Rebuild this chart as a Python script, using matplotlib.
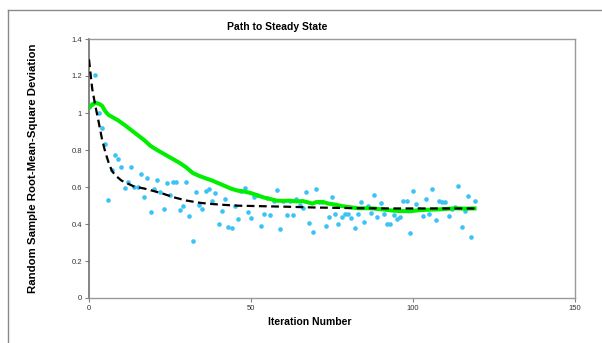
import numpy as np
import matplotlib.pyplot as plt
from matplotlib.lines import Line2D

plt.rcParams['font.family'] = ['Liberation Sans', 'DejaVu Sans']

# scatter: random sample rms deviation per iteration
iters = np.arange(120)
sample_rms = [1.034, 1.05, 1.205, 1.00, 0.92, 0.83, 0.53, 0.69, 0.775, 0.753,
              0.71, 0.593, 0.629, 0.71, 0.60, 0.60, 0.67, 0.548, 0.647, 0.465,
              0.589, 0.638, 0.573, 0.481, 0.622, 0.557, 0.629, 0.625, 0.476, 0.497,
              0.629, 0.443, 0.31, 0.571, 0.501, 0.479, 0.58, 0.591, 0.526, 0.569,
              0.402, 0.472, 0.533, 0.385, 0.378, 0.497, 0.427, 0.577, 0.596, 0.465,
              0.431, 0.544, 0.555, 0.389, 0.452, 0.539, 0.447, 0.524, 0.585, 0.373,
              0.524, 0.447, 0.524, 0.447, 0.533, 0.501, 0.488, 0.575, 0.407, 0.357,
              0.591, 0.52, 0.52, 0.389, 0.436, 0.544, 0.454, 0.40, 0.438, 0.456,
              0.456, 0.434, 0.38, 0.454, 0.517, 0.412, 0.499, 0.458, 0.555, 0.436,
              0.515, 0.452, 0.398, 0.398, 0.449, 0.427, 0.438, 0.526, 0.523, 0.353,
              0.578, 0.506, 0.479, 0.442, 0.537, 0.452, 0.591, 0.42, 0.526, 0.517,
              0.517, 0.445, 0.483, 0.49, 0.607, 0.382, 0.472, 0.553, 0.331, 0.523]

# green path
green_x = [0, 1, 2, 3, 4, 5, 6, 7, 9, 11, 13, 15, 17, 19, 21, 23, 26, 28, 30,
           32, 34, 36, 38, 40, 42, 44, 46, 48, 50, 52, 54, 56, 58, 60, 62, 64,
           66, 68, 69, 70, 72, 74, 76, 78, 80, 83, 87, 90, 92, 94, 96, 99, 101,
           103, 106, 108, 110, 113, 116, 119]
green_y = [1.03, 1.045, 1.055, 1.05, 1.04, 1.01, 0.99, 0.98, 0.96, 0.935, 0.908,
           0.881, 0.854, 0.822, 0.80, 0.78, 0.75, 0.73, 0.706, 0.676, 0.66, 0.647,
           0.635, 0.62, 0.605, 0.59, 0.58, 0.575, 0.567, 0.555, 0.543, 0.535,
           0.526, 0.525, 0.526, 0.522, 0.524, 0.515, 0.51, 0.518, 0.52, 0.51,
           0.505, 0.497, 0.492, 0.485, 0.485, 0.48, 0.476, 0.472, 0.47, 0.469,
           0.473, 0.476, 0.478, 0.479, 0.481, 0.485, 0.483, 0.484]

# black dashed path
black_x = [0, 1, 2, 3, 4, 5, 6, 7, 8, 10, 12, 14, 17, 20, 23, 26, 30, 34, 38,
           42, 46, 54, 62, 70, 81, 93, 105, 119]
black_y = [1.29, 1.13, 1.035, 0.95, 0.86, 0.79, 0.735, 0.69, 0.665, 0.635, 0.618,
           0.602, 0.592, 0.578, 0.563, 0.545, 0.527, 0.515, 0.508, 0.503, 0.499,
           0.496, 0.493, 0.489, 0.486, 0.484, 0.484, 0.484]

fig = plt.figure(figsize=(6.02, 3.43), dpi=100)
ax = fig.add_axes([89/602, 1-298/343, (575-89)/602, (298-39)/343])

ax.scatter(iters, sample_rms, s=11, color='#3cc3f5', linewidths=0, zorder=2)
ax.plot(green_x, green_y, color='#00ee00', lw=2.9, zorder=3)
ax.plot(black_x, black_y, color='black', lw=1.6, dashes=(3.5, 2), zorder=4)

ax.set_xlim(0, 150)
ax.set_ylim(0, 1.4)
ax.set_xticks([0, 50, 100, 150])
ax.set_yticks(np.arange(0, 1.41, 0.2))
ax.set_yticklabels(['0', '0.2', '0.4', '0.6', '0.8', '1', '1.2', '1.4'])
ax.tick_params(labelsize=5.5, length=3, width=0.8, colors='#808080',
               labelcolor='#333333', pad=2)

for side in ['top', 'right', 'bottom']:
    ax.spines[side].set_color('#9a9a9a')
    ax.spines[side].set_linewidth(1.0)
ax.spines['left'].set_color('#707070')
ax.spines['left'].set_linewidth(1.2)

fig.text(277/602, 1-27/343, 'Path to Steady State', ha='center', va='center',
         fontsize=7.5, fontweight='bold')
fig.text(310/602, 1-322/343, 'Iteration Number', ha='center', va='center',
         fontsize=7.5, fontweight='bold')
fig.text(33/602, 1-168/343, 'Random Sample Root-Mean-Square Deviation',
         ha='center', va='center', rotation=90, fontsize=8.2, fontweight='bold')

# chart area border
fig.add_artist(Line2D([8/602, 8/602], [0, 1-10/343], transform=fig.transFigure,
                      color='#8a8a8a', lw=1))
fig.add_artist(Line2D([8/602, 1], [1-10/343, 1-10/343], transform=fig.transFigure,
                      color='#8a8a8a', lw=1))

fig.savefig('out.png', dpi=100)
